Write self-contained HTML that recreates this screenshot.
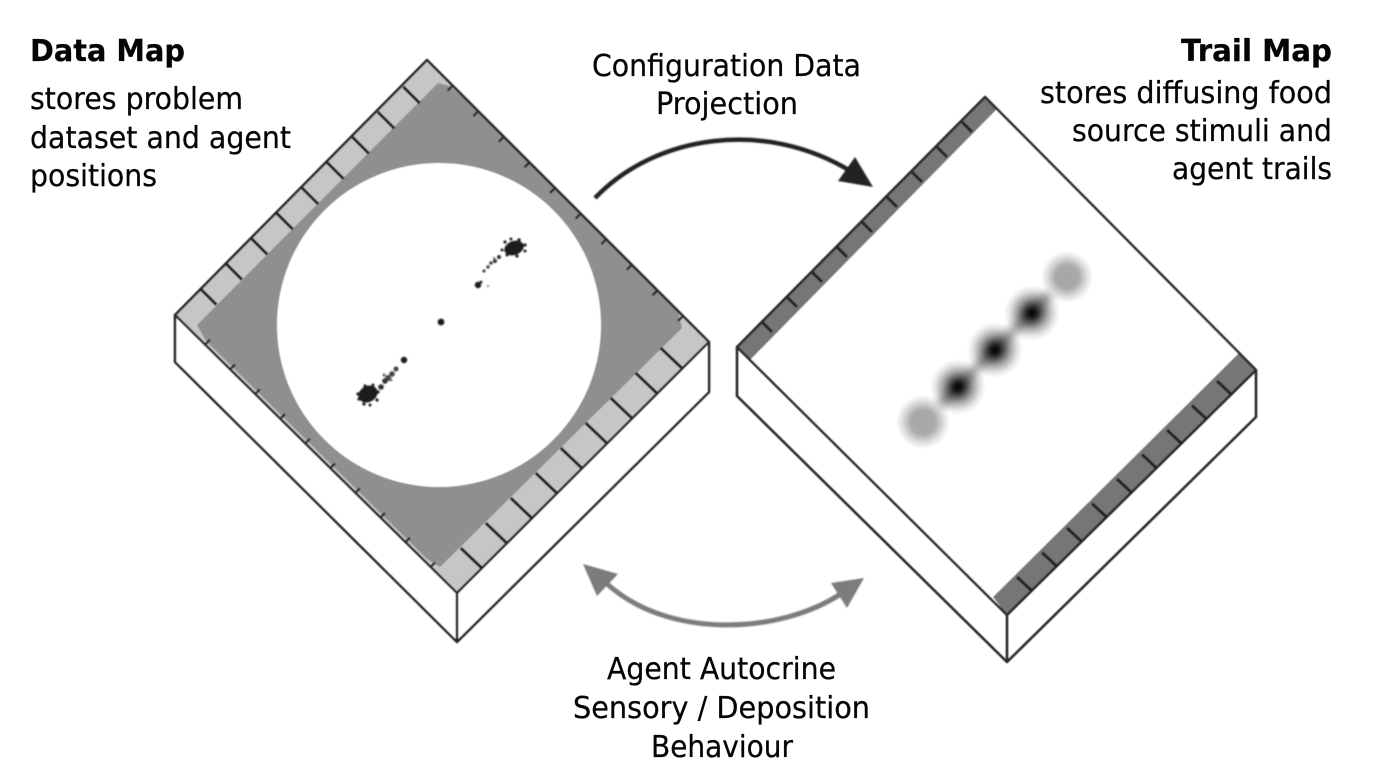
<!DOCTYPE html>
<html><head><meta charset="utf-8"><style>
html,body{margin:0;padding:0;background:#fff}
svg{display:block}
text{font-family:"DejaVu Sans","Liberation Sans",sans-serif;font-size:30px;fill:#050505;stroke:#050505;stroke-width:.25px}
.b{font-weight:bold}
</style></head><body>
<svg width="1396" height="780" viewBox="0 0 1396 780" xmlns="http://www.w3.org/2000/svg">
<defs>
<filter id="s" x="-5%" y="-5%" width="110%" height="110%"><feGaussianBlur stdDeviation="0.55"/></filter>
<filter id="a" x="-10%" y="-30%" width="120%" height="160%"><feGaussianBlur stdDeviation="0.7"/></filter>
<filter id="p" x="-30%" y="-30%" width="160%" height="160%"><feGaussianBlur stdDeviation="0.9"/></filter>
<filter id="l" x="-30%" y="-30%" width="160%" height="160%"><feGaussianBlur stdDeviation="4"/></filter>
<radialGradient id="k"><stop offset="0" stop-color="#050505"/><stop offset=".14" stop-color="#1c1c1c"/><stop offset=".3" stop-color="#555"/><stop offset=".55" stop-color="#a8a8a8"/><stop offset=".8" stop-color="#e4e4e4"/><stop offset="1" stop-color="#fff"/></radialGradient>
<radialGradient id="g"><stop offset="0" stop-color="#a6a6a6"/><stop offset=".45" stop-color="#aaa"/><stop offset=".75" stop-color="#dcdcdc"/><stop offset="1" stop-color="#fff"/></radialGradient>
</defs>

<!-- Data map -->
<g filter="url(#s)">
<polygon points="427,60 175,315 457,593 709,342" fill="#c6c6c6"/>
<polygon points="438,83 450,86 470,104 678,311 682,328 440,567 427,559 206,341 197,325" fill="#8f8f8f"/>
<circle cx="439" cy="325" r="162" fill="#fff"/>
<path d="M175 315V362L457 642L709 392V342L457 593Z" fill="#fff"/>
<path d="M427 60L175 315L457 593L709 342ZM175 315V362L457 642L709 392V342M457 593V642" fill="none" stroke="#2c2c2c" stroke-width="2.6" stroke-linejoin="round"/>
<path d="M200 288.3l16.5 16.5M225.4 263.1l16.5 16.5M250.8 237.9l16.5 16.5M276.2 212.7l16.5 16.5M301.6 187.5l16.5 16.5M327 162.3l16.5 16.5M352.4 137.1l16.5 16.5M377.8 111.9l16.5 16.5M403.2 86.7l16.5 16.5M460.7 548l21 20M485.7 523l21 20M510.7 498l21 20M535.7 473l21 20M560.7 448l21 20M585.7 423l21 20M610.7 398l21 20M635.7 373l21 20M660.7 348l21 20" fill="none" stroke="#222" stroke-width="3"/>
<path d="M683 316l-5 5M657.4 290.4l-5 5M631.8 264.8l-5 5M606.2 239.2l-5 5M580.6 213.6l-5 5M555 188l-5 5M529.4 162.4l-5 5M503.8 136.8l-5 5M478.2 111.2l-5 5M452.6 85.6l-5 5M205 344.7l5 -5M230 369.5l5 -5M255 394.2l5 -5M280 419l5 -5M305 443.7l5 -5M330 468.5l5 -5M355 493.2l5 -5M380 518l5 -5M405 542.7l5 -5M430 567.5l5 -5" fill="none" stroke="#2c2c2c" stroke-width="2.4"/>
</g>

<!-- Data points -->
<g filter="url(#p)" fill="#1a1a1a">
<ellipse cx="514" cy="248" rx="10" ry="7" transform="rotate(-20 514 248)"/>
<circle cx="505" cy="242" r="1.6"/><circle cx="511" cy="239" r="1.5"/><circle cx="519" cy="240" r="1.7"/><circle cx="525" cy="245" r="1.6"/><circle cx="525" cy="251" r="1.5"/><circle cx="517" cy="256" r="1.6"/><circle cx="507" cy="255" r="1.5"/><circle cx="502" cy="250" r="1.5"/>
<circle cx="499" cy="257" r="2" fill="#333"/><circle cx="495" cy="261" r="2" fill="#333"/><circle cx="491" cy="263" r="1.8" fill="#444"/><circle cx="488" cy="267" r="1.7" fill="#444"/><circle cx="484" cy="271" r="1.6" fill="#444"/><circle cx="494" cy="258" r="1.1" fill="#666"/>
<circle cx="478" cy="285" r="3.2"/><circle cx="481" cy="282" r="1.4"/><circle cx="488" cy="286" r="1" fill="#777"/>
<circle cx="441" cy="322" r="3.4"/>
<ellipse cx="368" cy="394" rx="10" ry="8" transform="rotate(-30 368 394)"/>
<circle cx="358" cy="394" r="1.6"/><circle cx="359" cy="399" r="1.6"/><circle cx="364" cy="404" r="1.6"/><circle cx="370" cy="405" r="1.5"/><circle cx="377" cy="400" r="1.6"/><circle cx="378" cy="392" r="1.6"/><circle cx="373" cy="385" r="1.5"/><circle cx="365" cy="386" r="1.6"/>
<circle cx="381" cy="387" r="2.8" fill="#333"/><circle cx="385" cy="381" r="2.8" fill="#333"/><circle cx="388" cy="378" r="3" fill="#444"/><circle cx="392" cy="374" r="2.8" fill="#444"/><circle cx="396" cy="369" r="2.5" fill="#444"/><circle cx="384" cy="375" r="1.5" fill="#666"/><circle cx="391" cy="380" r="1.4" fill="#666"/>
<circle cx="404" cy="360" r="3.2"/>
</g>

<!-- Trail map -->
<g filter="url(#s)">
<polygon points="985,97 737,347 1007,615 1256,370" fill="#fff"/>
<polygon points="985,97 737,347 750,360 996,110" fill="#767676"/>
<polygon points="1007,615 1256,370 1240,352 993,597" fill="#767676"/>
<path d="M985 97L737 347L1007 615L1256 370ZM737 347V396L1007 662L1256 417V370M1007 615V662" fill="none" stroke="#2c2c2c" stroke-width="2.6" stroke-linejoin="round"/>
<path d="M762 322l10 10M787 297l10 10M812 272l10 10M837 247l10 10M862 222l10 10M887 197l10 10M912 172l10 10M937 147l10 10M962 122l10 10M1017 577l15 14M1042 552.5l15 14M1067 528l15 14M1092 503.5l15 14M1117 479l15 14M1142 454.5l15 14M1167 430l15 14M1192 405.5l15 14M1217 381l15 14" fill="none" stroke="#222" stroke-width="3"/>
</g>
<path d="M940 405L1050 294" stroke="#b4b4b4" stroke-width="10" filter="url(#l)" fill="none"/>
<g style="mix-blend-mode:multiply">
<circle cx="1067" cy="277" r="26" fill="url(#g)" style="mix-blend-mode:multiply"/>
<circle cx="923" cy="422" r="27" fill="url(#g)" style="mix-blend-mode:multiply"/>
<circle cx="1032" cy="313" r="28" fill="url(#k)" style="mix-blend-mode:multiply"/>
<circle cx="995" cy="350" r="28" fill="url(#k)" style="mix-blend-mode:multiply"/>
<circle cx="958" cy="387" r="28" fill="url(#k)" style="mix-blend-mode:multiply"/>
</g>

<!-- Arrows -->
<g filter="url(#a)">
<path d="M595 198C655 135 765 118 852 172" fill="none" stroke="#222" stroke-width="4.5"/>
<polygon points="873,187 855,157 838,181" fill="#222"/>
<path d="M604 581C665 640 780 635 842 593" fill="none" stroke="#7c7c7c" stroke-width="5"/>
<polygon points="583,564 618,574 597,596" fill="#7c7c7c"/>
<polygon points="864,578 831,583 847,608" fill="#7c7c7c"/>
</g>

<!-- Labels -->
<text class="b" x="30" y="61" textLength="155" lengthAdjust="spacingAndGlyphs">Data Map</text>
<text x="30" y="109" textLength="213" lengthAdjust="spacingAndGlyphs">stores problem</text>
<text x="30" y="148" textLength="261" lengthAdjust="spacingAndGlyphs">dataset and agent</text>
<text x="30" y="186" textLength="127" lengthAdjust="spacingAndGlyphs">positions</text>
<text class="b" x="1181" y="61" textLength="151" lengthAdjust="spacingAndGlyphs">Trail Map</text>
<text x="1040" y="103" textLength="292" lengthAdjust="spacingAndGlyphs">stores diffusing food</text>
<text x="1072" y="141" textLength="260" lengthAdjust="spacingAndGlyphs">source stimuli and</text>
<text x="1172" y="179" textLength="160" lengthAdjust="spacingAndGlyphs">agent trails</text>
<text x="592" y="76" textLength="269" lengthAdjust="spacingAndGlyphs">Configuration Data</text>
<text x="656" y="114" textLength="142" lengthAdjust="spacingAndGlyphs">Projection</text>
<text x="607" y="679" textLength="229" lengthAdjust="spacingAndGlyphs">Agent Autocrine</text>
<text x="573" y="718" textLength="297" lengthAdjust="spacingAndGlyphs">Sensory / Deposition</text>
<text x="651" y="757" textLength="142" lengthAdjust="spacingAndGlyphs">Behaviour</text>
</svg>
</body></html>
